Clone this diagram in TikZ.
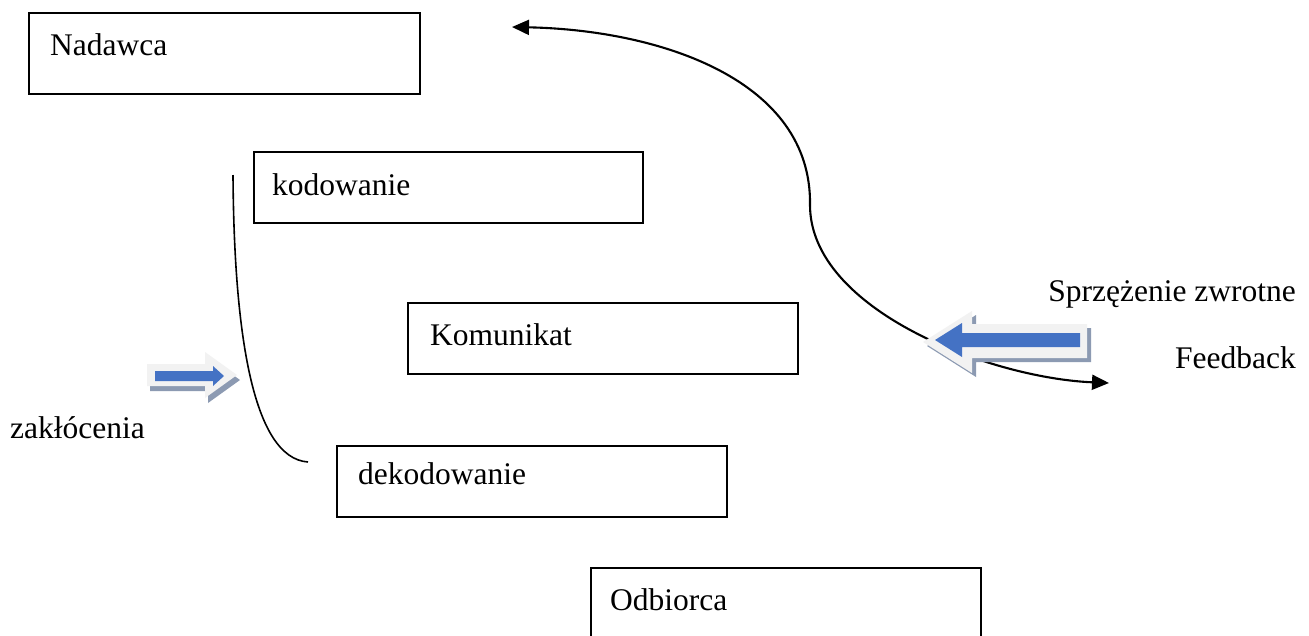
\documentclass[tikz,border=0pt]{standalone}
\usepackage{fontspec}
\setmainfont{Liberation Serif}
\usetikzlibrary{arrows.meta}
\definecolor{arrblue}{HTML}{4472C4}
\definecolor{arrlight}{HTML}{F2F2F2}
\definecolor{arrshadow}{HTML}{8C9AB2}
\begin{document}
\begin{tikzpicture}[x=1pt,y=-1pt,
  box/.style={draw, line width=2pt, rectangle, anchor=north west, inner sep=0pt},
  lbl/.style={inner sep=0pt, font=\fontsize{31.5}{36}\selectfont},
  conn/.style={line width=2.1pt}]
\useasboundingbox (0,0) rectangle (1309,635);
\clip (0,0) rectangle (1309,635);
\fill[white] (0,0) rectangle (1309,635);
% boxes
\node[box, minimum width=391pt, minimum height=81pt] (nad) at (28,12) {};
\node[box, minimum width=389pt, minimum height=71pt] (kod) at (253,151) {};
\node[box, minimum width=390pt, minimum height=71pt] (kom) at (407,302) {};
\node[box, minimum width=390pt, minimum height=71pt] (dek) at (336,445) {};
\node[box, minimum width=390pt, minimum height=90pt] (odb) at (590,567) {};
% texts
\node[lbl, anchor=base west] (tnad) at (50,55) {Nadawca};
\node[lbl, anchor=base west] (tkod) at (272,195) {kodowanie};
\node[lbl, anchor=base west] (tkom) at (430,345) {Komunikat};
\node[lbl, anchor=base west] (tdek) at (358,484) {dekodowanie};
\node[lbl, anchor=base west] (todb) at (610,610) {Odbiorca};
\node[lbl, anchor=base east] (tsz) at (1296,301) {Sprzężenie zwrotne};
\node[lbl, anchor=base east] (tfb) at (1296,368) {Feedback};
\node[lbl, anchor=base west] (tzak) at (10,438) {zakłócenia};
% feedback curve
\coordinate (fbs) at (512,27);
\coordinate (fbm) at (810,205);
\coordinate (fbe) at (1109,383);
\draw[conn, {Triangle[length=17pt,width=15pt]}-{Triangle[length=17pt,width=15pt]}]
  (fbs) .. controls (660,30) and (812,80) .. (fbm)
  .. controls (810,310) and (990,378) .. (fbe);
% noise bracket
\coordinate (nb1) at (233,175);
\coordinate (nb2) at (308,462);
\draw[line width=1.6pt] (nb1) .. controls (234,330) and (252,458) .. (nb2);
% big left block arrow
\begin{scope}[shift={(4,4)}]
\fill[arrshadow] (923,342) -- (972,311) -- (972,324) -- (1087,324) -- (1087,358) -- (972,358) -- (972,373) -- cycle;
\end{scope}
\fill[arrlight] (923,342) -- (972,311) -- (972,324) -- (1087,324) -- (1087,358) -- (972,358) -- (972,373) -- cycle;
\fill[arrblue] (935,340) -- (962,323) -- (962,333) -- (1080,333) -- (1080,347) -- (962,347) -- (962,357) -- cycle;
% small right block arrow
\begin{scope}[shift={(3,5)}]
\fill[arrshadow] (147,364) -- (205,364) -- (205,352) -- (237,375) -- (205,398) -- (205,386) -- (147,386) -- cycle;
\end{scope}
\fill[arrlight] (147,364) -- (205,364) -- (205,352) -- (237,375) -- (205,398) -- (205,386) -- (147,386) -- cycle;
\fill[arrblue] (155,371) -- (213,371) -- (213,366) -- (224,376) -- (213,386) -- (213,381) -- (155,381) -- cycle;
\end{tikzpicture}
\end{document}
